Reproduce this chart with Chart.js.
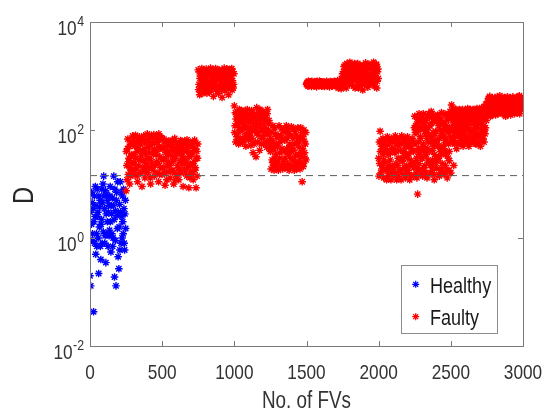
<!DOCTYPE html>
<html>
<head>
<meta charset="utf-8">
<script src="https://cdn.jsdelivr.net/npm/chart.js@4.4.1/dist/chart.umd.min.js"></script>
<style>
  html, body { margin: 0; padding: 0; background: #fff; }
  #wrap { width: 546px; height: 412px; }
</style>
</head>
<body>
<div id="wrap"><canvas id="grafico" width="546" height="412"></canvas></div>
<script>
// D per feature vector; "a" arrays are FVs start+5i, "b" start+2+5i, "c" start+4+5i
const FV_STEP = 5;
const LIMIAR = 14.3; // dashed threshold

const healthyA = [
  0.2, 0.13, 1.8, 4.5, 0.9, 0.043, 6, 2.5, 0.5, 1.2,
  8, 3, 0.22, 1.6, 5, 0.4, 2.2, 0.8, 10, 14,
  3.5, 1.1, 0.35, 6.5, 2, 0.7, 4, 1.4, 9, 0.55,
  2.8, 5.5, 1, 14, 0.19, 3.2, 0.13, 7, 1.5, 0.45,
  0.27, 4.2, 11, 0.8, 2.5, 6, 1.2, 3.5, 0.6, 5
];
const healthyB = [
  3, 0.9, 7, 1.2, 3.5, 2, 0.8, 9, 4, 0.7,
  2.5, 1, 6, 3.8, 0.7, 1.8, 8, 4.5, 1.3, 6,
  0.8, 7.5, 2.8, 1.2, 5, 3, 1.1, 6, 2, 4,
  1.2, 0.7, 4, 2.2, 8, 0.9, 5, 2.6, 11, 3,
  1.6, 0.6, 3, 7, 1, 2, 8, 0.8, 2.8, 1.5
];

const faulty250a = [
  7.5, 22, 45, 15, 30, 10, 60, 18, 35, 78,
  25, 15, 50, 80, 20, 40, 11, 65, 28, 16,
  55, 33, 9, 70, 19, 45, 13, 38, 62, 24,
  16, 48, 75, 30, 10, 80, 22, 58, 36, 14,
  42, 78, 26, 16, 66, 11, 50, 32, 20, 72,
  15, 45, 28, 60, 9.5, 38, 22, 55, 17, 34,
  50, 13, 40, 25, 65, 18, 10, 44, 30, 15,
  58, 22, 36, 12, 48, 27, 16, 62, 33, 9,
  42, 19, 55, 28, 14, 46, 24, 8.5, 38, 60,
  17, 35, 50, 12, 26, 65, 20, 8.5, 40, 30
];
const faulty250b = [
  40, 12, 68, 26, 50, 20, 14, 33, 55, 24,
  70, 35, 18, 30, 58, 14, 45, 22, 75, 42,
  16, 68, 40, 27, 78, 21, 58, 17, 30, 85,
  62, 20, 38, 13, 52, 26, 70, 18, 82, 44,
  22, 35, 58, 40, 24, 85, 15, 68, 46, 28,
  70, 20, 48, 16, 30, 65, 12, 40, 26, 62,
  22, 58, 17, 55, 33, 48, 28, 70, 12, 38,
  15, 45, 20, 55, 18, 64, 40, 24, 52, 30,
  24, 62, 16, 40, 66, 20, 52, 32, 13, 22,
  55, 15, 24, 42, 60, 18, 45, 30, 14, 55
];
const faulty750a = [
  1300, 700, 450, 1000, 600, 1380, 850, 520, 1150, 750,
  950, 1350, 480, 1200, 650, 1050, 800, 1400, 560, 900,
  1250, 420, 1000, 700, 1380, 580, 1100, 850, 480, 1300,
  620, 1200, 900, 400, 1050, 750, 1400, 530, 1000, 680,
  1350, 800, 450, 1150, 620, 1300, 900, 550, 1200, 700
];
const faulty750b = [
  560, 1200, 900, 650, 1100, 780, 480, 1250, 620, 1000,
  600, 750, 1100, 580, 1300, 500, 1150, 680, 1250, 720,
  750, 900, 600, 1200, 800, 1000, 520, 1250, 950, 640,
  1100, 780, 560, 1300, 650, 1150, 850, 1200, 600, 1350,
  950, 580, 1250, 760, 1050, 680, 1380, 820, 600, 1100
];
const faulty1000a = [
  280, 120, 60, 200, 85, 150, 55, 240, 100, 70,
  180, 58, 130, 220, 75, 160, 50, 110, 240, 90,
  65, 190, 140, 52, 230, 95, 38, 170, 120, 60,
  32, 260, 150, 80, 200, 42, 110, 230, 70, 180,
  130, 55, 210, 90, 170, 48, 240, 100, 150, 65
];
const faulty1000b = [
  90, 210, 160, 75, 130, 62, 180, 110, 230, 145,
  100, 150, 200, 65, 120, 230, 85, 190, 70, 140,
  150, 80, 110, 210, 70, 160, 130, 55, 200, 100,
  120, 90, 60, 170, 130, 240, 160, 55, 210, 95,
  75, 180, 110, 150, 60, 200, 85, 130, 60, 45
];
const faulty1250a = [
  40, 19, 90, 25, 60, 18, 110, 35, 20, 75,
  50, 18, 120, 30, 80, 22, 45, 19, 100, 28,
  65, 20, 120, 38, 24, 85, 18, 55, 30, 115,
  21, 70, 42, 18, 95, 33, 58, 22, 110, 26,
  48, 19, 110, 36, 11, 75, 24, 62, 30, 90
];
const faulty1250b = [
  70, 50, 28, 120, 22, 45, 30, 85, 55, 24,
  26, 75, 38, 60, 20, 105, 70, 40, 24, 65,
  30, 90, 45, 70, 100, 35, 48, 22, 80, 40,
  45, 28, 105, 55, 25, 80, 19, 75, 36, 60,
  25, 70, 32, 90, 45, 21, 100, 38, 55, 28
];
const faulty1500a = [
  700, 760, 650, 800, 720, 680, 780, 640, 740, 700,
  660, 790, 710, 750, 630, 770, 690, 730, 810, 670,
  740, 650, 700, 780, 720, 640, 760, 690, 800, 710,
  680, 750, 630, 790, 700, 740, 660, 770, 720, 690,
  760, 650, 730, 820, 600, 750, 700, 790, 580, 850
];
const faulty1500b = [
  730, 680, 790, 660, 760, 740, 700, 800, 680, 750,
  720, 690, 770, 650, 800, 700, 740, 660, 710, 780,
  690, 770, 730, 660, 750, 700, 680, 740, 720, 650,
  760, 690, 720, 680, 770, 650, 730, 700, 800, 740,
  700, 780, 640, 720, 760, 620, 800, 680, 900, 620
];
const faulty1750a = [
  1100, 700, 1500, 900, 1300, 600, 1700, 1000, 800, 1400,
  1800, 750, 1200, 950, 1600, 650, 1100, 1350, 850, 1500,
  1000, 1700, 600, 1250, 800, 1450, 900, 1100, 550, 1600,
  1300, 700, 1750, 950, 1150, 620, 1400, 850, 1600, 1050,
  750, 1500, 1000, 1800, 650, 1250, 900, 1650, 800, 1350
];
const faulty1750b = [
  800, 1200, 650, 1600, 750, 1050, 850, 1450, 1250, 700,
  1000, 1400, 700, 1300, 850, 1200, 1700, 600, 1100, 950,
  1350, 750, 1150, 650, 1550, 950, 1300, 700, 1200, 850,
  900, 1200, 800, 1500, 700, 1050, 1650, 1000, 750, 1350,
  1150, 850, 1400, 700, 1100, 950, 1550, 600, 1200, 900
];
const faulty2000a = [
  30, 60, 95, 16, 50, 22, 70, 13, 40, 18,
  25, 12, 75, 35, 16, 55, 28, 12, 45, 20,
  65, 14, 38, 78, 24, 12, 52, 30, 17, 70,
  42, 12, 78, 26, 15, 60, 33, 13, 48, 22,
  75, 18, 36, 12, 55, 27, 14, 65, 40, 20
];
const faulty2000b = [
  14, 24, 40, 65, 19, 55, 35, 28, 62, 45,
  50, 40, 20, 14, 65, 22, 38, 70, 16, 60,
  20, 45, 60, 16, 40, 68, 22, 14, 55, 28,
  18, 55, 30, 62, 40, 20, 70, 36, 16, 58,
  30, 50, 15, 62, 22, 45, 70, 24, 14, 110
];
const faulty2250a = [
  180, 25, 90, 13, 6.5, 45, 200, 18, 70, 140,
  110, 14, 55, 160, 22, 85, 35, 13, 190, 60,
  40, 120, 16, 75, 200, 28, 50, 12, 150, 95,
  20, 65, 175, 32, 14, 100, 45, 210, 24, 80,
  130, 15, 58, 190, 38, 13, 90, 160, 27, 220
];
const faulty2250b = [
  55, 120, 30, 160, 20, 100, 35, 150, 15, 40,
  30, 140, 20, 45, 120, 16, 70, 100, 28, 200,
  170, 22, 60, 135, 18, 90, 180, 35, 25, 55,
  140, 28, 50, 120, 70, 18, 160, 36, 95, 16,
  45, 105, 22, 70, 150, 60, 30, 18, 110, 75
];
const faulty2250c = [
  90, 16, 130, 40, 60, 24, 110, 75, 30, 170,
  50, 200, 18, 95, 35, 150, 14, 45, 80, 25,
  120, 60, 220, 22, 42, 160, 15, 85, 65, 180,
  55, 190, 30, 15, 140, 40, 80, 19, 130, 50,
  70, 200, 35, 120, 18, 105, 55, 40, 190, 100
];
const faulty2500a = [
  16, 290, 60, 150, 22, 200, 90, 240, 45, 120,
  180, 55, 230, 100, 70, 210, 140, 50, 190, 85,
  220, 65, 160, 110, 200, 50, 130, 240, 80, 170,
  95, 230, 60, 180, 120, 240, 55, 150, 210, 75,
  190, 50, 140, 250, 90, 220, 60, 170, 110, 260
];
const faulty2500b = [
  180, 100, 230, 70, 130, 55, 170, 110, 210, 80,
  90, 160, 75, 200, 130, 60, 240, 110, 65, 230,
  100, 190, 60, 250, 75, 150, 210, 95, 230, 60,
  160, 70, 200, 110, 55, 140, 250, 85, 130, 190,
  75, 210, 100, 65, 180, 120, 240, 85, 300, 150
];
const faulty2500c = [
  110, 60, 190, 250, 80, 140, 60, 100, 160, 230,
  140, 240, 110, 55, 170, 90, 200, 75, 150, 120,
  60, 140, 230, 70, 130, 100, 180, 60, 150, 200,
  240, 130, 90, 70, 200, 85, 110, 190, 60, 140,
  130, 180, 260, 110, 70, 160, 100, 230, 190, 200
];
const faulty2750a = [
  300, 200, 380, 240, 420, 180, 330, 260, 350, 220,
  280, 400, 190, 320, 250, 370, 210, 300, 430, 230,
  340, 200, 290, 390, 240, 310, 180, 360, 260, 320,
  220, 380, 270, 190, 340, 300, 410, 230, 290, 350,
  250, 400, 210, 320, 280, 430, 240, 360, 300, 270
];
const faulty2750b = [
  230, 340, 270, 400, 210, 310, 190, 390, 250, 360,
  350, 220, 310, 260, 410, 200, 340, 240, 270, 380,
  230, 370, 210, 270, 400, 190, 330, 250, 410, 220,
  310, 240, 400, 330, 210, 380, 260, 350, 200, 270,
  370, 220, 340, 260, 410, 200, 330, 240, 390, 310
];

const xTicks = [0, 500, 1000, 1500, 2000, 2500, 3000];
const yExpoentes = ['4', '2', '0', '-2'];

const FONTE = "'Liberation Sans', Arial, sans-serif";
const ESTREITO = 0.82; // horizontal squeeze, the reference text is narrow

function pontos(valores, inicio) {
  return valores.map((d, i) => ({ x: inicio + i * FV_STEP, y: d }));
}

const healthyPts = [].concat(pontos(healthyA, 0), pontos(healthyB, 2));
const faultyPts = [].concat(
  pontos(faulty250a, 250), pontos(faulty250b, 252),
  pontos(faulty750a, 750), pontos(faulty750b, 752),
  pontos(faulty1000a, 1000), pontos(faulty1000b, 1002),
  pontos(faulty1250a, 1250), pontos(faulty1250b, 1252),
  pontos(faulty1500a, 1500), pontos(faulty1500b, 1502),
  pontos(faulty1750a, 1750), pontos(faulty1750b, 1752),
  pontos(faulty2000a, 2000), pontos(faulty2000b, 2002),
  pontos(faulty2250a, 2250), pontos(faulty2250b, 2252), pontos(faulty2250c, 2254),
  pontos(faulty2500a, 2500), pontos(faulty2500b, 2502), pontos(faulty2500c, 2504),
  pontos(faulty2750a, 2750), pontos(faulty2750b, 2752)
);

function asterisco(ctx, x, y, r) {
  ctx.beginPath();
  for (let k = 0; k < 4; k++) {
    const a = k * Math.PI / 4;
    ctx.moveTo(x - Math.cos(a) * r, y - Math.sin(a) * r);
    ctx.lineTo(x + Math.cos(a) * r, y + Math.sin(a) * r);
  }
  ctx.stroke();
}

function texto(ctx, str, x, y, size, align, rot) {
  ctx.save();
  ctx.translate(x, y);
  if (rot) ctx.rotate(rot);
  ctx.scale(ESTREITO, 1);
  ctx.font = size + 'px ' + FONTE;
  ctx.textAlign = align;
  ctx.textBaseline = 'alphabetic';
  ctx.fillText(str, 0, 0);
  ctx.restore();
}

const moldura = {
  id: 'moldura',
  afterDatasetsDraw(chart) {
    const { ctx, chartArea: a, scales: { x, y } } = chart;
    ctx.save();
    ctx.strokeStyle = '#7a7a7a';
    ctx.lineWidth = 1;
    ctx.strokeRect(a.left + 0.5, a.top + 0.5, a.right - a.left, a.bottom - a.top);
    ctx.beginPath();
    xTicks.forEach(v => {
      const px = Math.round(x.getPixelForValue(v)) + 0.5;
      ctx.moveTo(px, a.bottom); ctx.lineTo(px, a.bottom - 5);
      ctx.moveTo(px, a.top); ctx.lineTo(px, a.top + 5);
    });
    yExpoentes.forEach(e => {
      const py = Math.round(y.getPixelForValue(Math.pow(10, Number(e)))) + 0.5;
      ctx.moveTo(a.left, py); ctx.lineTo(a.left + 5, py);
      ctx.moveTo(a.right, py); ctx.lineTo(a.right - 5, py);
    });
    ctx.stroke();

    ctx.fillStyle = '#333';
    // x tick labels and title
    xTicks.forEach(v => texto(ctx, String(v), x.getPixelForValue(v), 378.5, 21, 'center'));
    texto(ctx, 'No. of FVs', (a.left + a.right) / 2, 408, 23, 'center');

    // y tick labels with superscript
    yExpoentes.forEach(e => {
      const py = y.getPixelForValue(Math.pow(10, Number(e)));
      ctx.font = '15px ' + FONTE;
      const we = ctx.measureText(e).width * ESTREITO;
      texto(ctx, e, 84, py + 3.5, 15, 'right');
      texto(ctx, '10', 84 - we - 0.5, py + 13.3, 21, 'right');
    });

    // y title
    ctx.fillStyle = '#262626';
    texto(ctx, 'D', 33, 195.5, 29, 'center', -Math.PI / 2);

    // legend
    ctx.fillStyle = '#fff';
    ctx.fillRect(401, 265, 96, 68);
    ctx.strokeStyle = '#8c8c8c';
    ctx.strokeRect(401.5, 265.5, 96, 68);
    ctx.lineWidth = 1.2;
    ctx.strokeStyle = '#0000ff';
    asterisco(ctx, 415.7, 284.3, 3.5);
    ctx.strokeStyle = '#ff0000';
    asterisco(ctx, 415.7, 316.7, 3.5);
    ctx.fillStyle = '#1a1a1a';
    texto(ctx, 'Healthy', 430, 292.5, 22, 'left');
    texto(ctx, 'Faulty', 430, 325, 22, 'left');
    ctx.restore();
  }
};

const ctx = document.getElementById('grafico').getContext('2d');
const chart = new Chart(ctx, {
  type: 'scatter',
  data: {
    datasets: [
      {
        type: 'line',
        label: 'limiar',
        data: [{ x: 0, y: LIMIAR }, { x: 3000, y: LIMIAR }],
        borderColor: '#5a5a5a',
        borderWidth: 1,
        borderDash: [7, 5],
        pointRadius: 0,
        fill: false,
        order: 0
      },
      {
        label: 'Faulty',
        data: faultyPts,
        pointStyle: 'star',
        pointRadius: 3.8,
        borderWidth: 1.4,
        borderColor: '#ff0000',
        backgroundColor: '#ff0000',
        order: 1
      },
      {
        label: 'Healthy',
        data: healthyPts,
        pointStyle: 'star',
        pointRadius: 3.8,
        borderWidth: 1.4,
        borderColor: '#0000ff',
        backgroundColor: '#0000ff',
        order: 2
      }
    ]
  },
  options: {
    responsive: false,
    animation: false,
    events: [],
    layout: { padding: { left: 0, right: 23, top: 22, bottom: 0 } },
    plugins: { legend: { display: false }, tooltip: { enabled: false } },
    scales: {
      x: {
        type: 'linear', min: 0, max: 3000,
        grid: { display: false, drawTicks: false },
        border: { display: false },
        ticks: { display: false, stepSize: 500 },
        afterFit: s => { s.height = 66; }
      },
      y: {
        type: 'logarithmic', min: 0.01, max: 10000,
        grid: { display: false, drawTicks: false },
        border: { display: false },
        ticks: { display: false },
        afterFit: s => { s.width = 90; }
      }
    }
  },
  plugins: [moldura]
});
</script>
</body>
</html>
